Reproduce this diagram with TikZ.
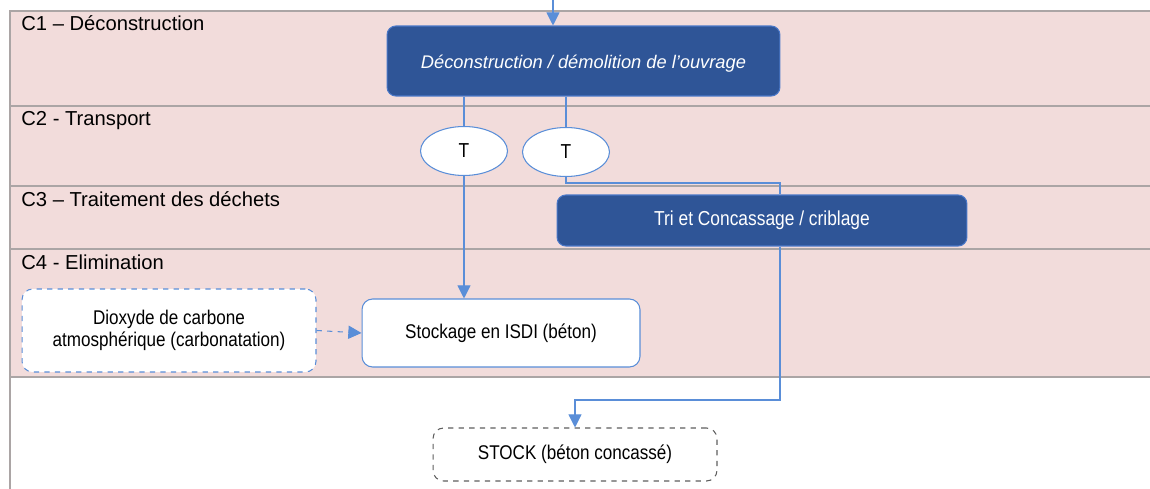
\documentclass[tikz,border=0pt]{standalone}
\usepackage{fontspec}
\setmainfont{Liberation Sans}
\newfontfamily\boxfont[FakeStretch=0.86]{Liberation Sans}
\usetikzlibrary{arrows.meta, shapes.geometric}

\definecolor{lanepink}{HTML}{F2DCDB}
\definecolor{laneline}{HTML}{ABA5A5}
\definecolor{darkbox}{HTML}{2F5597}
\definecolor{darkedge}{HTML}{4A78C8}
\definecolor{linkblue}{HTML}{5A8ED8}
\definecolor{stockedge}{HTML}{5E5E5E}

\begin{document}
\begin{tikzpicture}[x=0.02cm, y=-0.02cm,
  lanelabel/.style={anchor=base west, inner sep=0pt, font=\fontsize{11.5}{14}\selectfont},
  darkstep/.style={draw=darkedge, fill=darkbox, text=white, rounded corners=5pt, line width=0.6pt},
  whitestep/.style={draw=linkblue, fill=white, rounded corners=6pt, line width=0.6pt, align=center,
    font=\boxfont\fontsize{11.3}{12.6}\selectfont},
  tnode/.style={draw=linkblue, fill=white, ellipse, line width=0.6pt, minimum width=1.74cm,
    minimum height=0.98cm, inner sep=0pt, font=\boxfont\fontsize{11.5}{13}\selectfont},
  link/.style={draw=linkblue, line width=0.6pt},
  tip/.tip={Triangle[length=7.5pt, width=7.5pt]}]

\useasboundingbox (0,0) rectangle (1150,489);

% lanes
\fill[lanepink] (10,11) rectangle (1150,377);
\draw[laneline, line width=0.7pt] (10,489) -- (10,11) -- (1150,11);
\foreach \y in {106,186,249,377}
  \draw[laneline, line width=0.7pt] (10,\y) -- (1150,\y);

% lane labels
\path
(21,31) node[lanelabel] (labC1) {C1 – Déconstruction}
(21,126) node[lanelabel] (labC2) {C2 - Transport}
(21,207) node[lanelabel] (labC3) {C3 – Traitement des déchets}
(21,270) node[lanelabel] (labC4) {C4 - Elimination}
;

% steps
\node[darkstep, minimum width=7.86cm, minimum height=1.4cm, text height=1.05em, text depth=0.2em,
  font=\itshape\fontsize{10.4}{12}\selectfont] (decon) at (583.5,61)
  {Déconstruction / démolition de l’ouvrage};
\node[tnode] (t1) at (464,151) {T};
\node[tnode] (t2) at (566,152) {T};
\node[darkstep, minimum width=8.2cm, minimum height=1.02cm,
  font=\boxfont\fontsize{11.5}{13}\selectfont] (tri) at (762,220.5)
  {Tri et Concassage / criblage};
\node[whitestep, minimum width=5.56cm, minimum height=1.36cm] (isdi) at (501,333)
  {Stockage en ISDI (béton)};
\node[whitestep, dashed, minimum width=5.88cm, minimum height=1.66cm] (co2) at (169,330.5)
  {Dioxyde de carbone\\atmosphérique (carbonatation)};
\node[whitestep, draw=stockedge, dashed, minimum width=5.68cm, minimum height=1.06cm] (stock)
  at (575,454.5) {STOCK (béton concassé)};

% connectors
\coordinate (entry) at (553,0);
\draw[link, -tip] (entry) -- (entry |- decon.north);
\draw[link] (decon.south -| t1.north) -- (t1.north);
\draw[link] (decon.south -| t2.north) -- (t2.north);
\draw[link, -tip] (t1.south) -- (t1.south |- isdi.north);
\draw[link] (t2.south) |- (780,183) coordinate (turn) -- (turn |- tri.north);
\draw[link, -tip] (turn |- tri.south) -- (780,400) -| (stock.north);
\draw[link, dashed, -tip] (co2.east) -- (isdi.west);

\end{tikzpicture}
\end{document}
